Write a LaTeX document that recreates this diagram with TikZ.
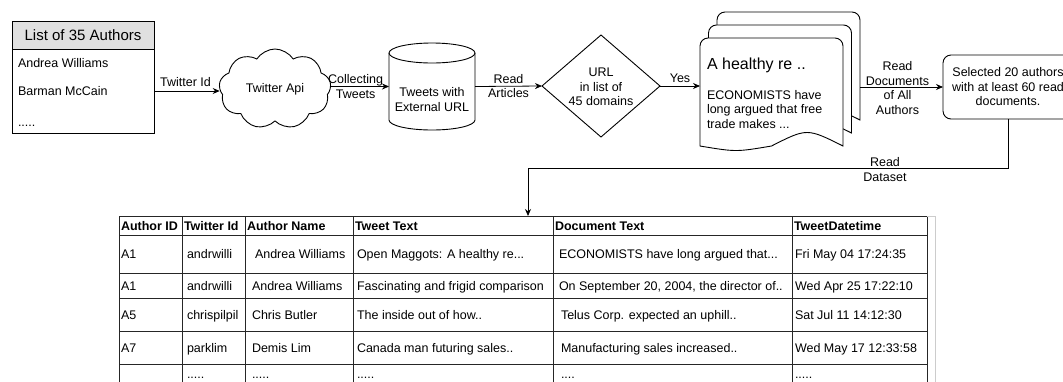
\documentclass[tikz,border=0pt]{standalone}
\usepackage{fontspec}
\setmainfont{Liberation Sans}
\usetikzlibrary{shapes.symbols,shapes.geometric,arrows.meta}
\begin{document}
\begin{tikzpicture}[x=1pt,y=-1pt,
  every node/.style={font=\fontsize{12.5}{14.5}\selectfont, inner sep=0pt, outer sep=0pt},
  conn/.style={draw=black, line width=0.8pt, -{Stealth[length=7pt,width=6pt]}},
  shp/.style={draw=black, line width=0.9pt, fill=white},
  grid/.style={draw=black!85, line width=0.9pt},
  tx/.style={anchor=base west},
  hd/.style={anchor=base west, font=\fontsize{12.5}{14.5}\selectfont\bfseries},
]
\useasboundingbox (0,0) rectangle (1063,381);

% ---- list of authors
\node[shp, fill={rgb,255:red,224;green,224;blue,224}, minimum width=142pt, minimum height=28pt,
      anchor=north west, font=\fontsize{15}{17}\selectfont] (listhead) at (12,21) {List of 35 Authors};
\node[shp, minimum width=142pt, minimum height=84pt, anchor=north west] (list) at (12,49) {};
\node[tx] (i1) at (18,67.5) {Andrea Williams};
\node[tx] (i2) at (18,95.5) {Barman McCain};
\node[tx] (i3) at (18,126) {.....};

% ---- cloud
\node[cloud, draw=black, line width=0.9pt, fill=white, cloud puffs=9, cloud puff arc=115, aspect=1.4,
      minimum width=112pt, minimum height=80pt] (api) at (275,89) {Twitter Api};

% ---- cylinder
\draw[shp] (389,53) -- (389,120) arc(180:0:43 and 10) -- (475,53) arc(0:-180:43 and 10) -- cycle;
\draw[draw=black, line width=0.9pt] (389,53) arc(180:0:43 and 10);
\node[minimum width=86pt, minimum height=87pt] (db) at (432,86.5) {};
\node[align=center] (dbt) at (432,99.5) {Tweets with\\External URL};

% ---- diamond
\node[diamond, shp, minimum width=118pt, minimum height=102pt] (dia) at (601,86) {};
\node[align=center] (diat) at (601,87) {URL\\in list of\\45 domains};

% ---- document stack
\foreach \dx/\dy in {17/-26, 8.5/-13, 0/0}
  \draw[shp, shift={(700+\dx,38+\dy)}] (0,108) -- (0,8) arc(180:270:8) -- (135,0) arc(270:360:8) -- (143,108)
      .. controls (107,90) .. (71.5,108) .. controls (36,114) .. (0,108) -- cycle;
\node[minimum width=143pt, minimum height=108pt, anchor=north west] (doc) at (700,38) {};
\node[anchor=base west, font=\fontsize{16}{18}\selectfont] (doct) at (707,69) {A healthy re ..};
\node[anchor=north west, align=left] (docb) at (707,90) {ECONOMISTS have\\long argued that free\\trade makes ...};
\coordinate (stackR) at (860,87);

% ---- selected box
\node[shp, rounded corners=8pt, minimum width=130pt, minimum height=64pt, align=center] (sel) at (1008,87)
  {Selected 20 authors\\with at least 60 read\\documents.};

% ---- connectors
\draw[conn] (list.east) -- (list.east -| api.west) node[pos=0.48, above=4pt] (l1) {Twitter Id};
\draw[conn] (api.east |- db.west) -- (db.west) node[midway, align=center, xshift=-4pt] (l2) {Collecting\\Tweets};
\draw[conn] (db.east) -- (dia.west) node[midway, align=center] (l3) {Read\\Articles};
\draw[conn] (dia.east) -- (dia.east -| doc.west) node[midway, above=3pt] (l4) {Yes};
\draw[conn] (stackR) -- (sel.west) node[midway, align=center, xshift=-4pt, yshift=-1pt] (l5) {Read\\Documents\\of All\\Authors};
\coordinate (tblin) at (528,216);
\draw[conn] (sel.south) -- ++(0,49) -| (tblin);
\node[align=center] (l6) at (885,169.5) {Read\\Dataset};

% ---- table
\foreach \x in {119,182,245,353,553,792,927} \draw[grid] (\x,216) -- (\x,386);
\foreach \y in {216,235,273,298,331,364} \draw[grid] (119,\y) -- (927,\y);
\draw[draw=black!20, line width=0.9pt] (927,216) -- (935,216) -- (935,386);

\node[hd] (h1) at (121,230) {Author ID};
\node[hd] (h2) at (184,230) {Twitter Id};
\node[hd] (h3) at (247,230) {Author Name};
\node[hd] (h4) at (355,230) {Tweet Text};
\node[hd] (h5) at (555,230) {Document Text};
\node[hd] (h6) at (794,230) {TweetDatetime};

\node[tx] (a1) at (121,258.5) {A1};
\node[tx] (a2) at (187,258.5) {andrwilli};
\node[tx] (a3) at (255,258.5) {Andrea Williams};
\node[tx] (a4) at (357,258.5) {Open Maggots: A healthy re...};
\node[tx] (a5) at (559,258.5) {ECONOMISTS have long argued that...};
\node[tx] (a6) at (795,258.5) {Fri May 04 17:24:35};

\node[tx] (b1) at (121,290) {A1};
\node[tx] (b2) at (187,290) {andrwilli};
\node[tx] (b3) at (252,290) {Andrea Williams};
\node[tx] (b4) at (357,290) {Fascinating and frigid comparison};
\node[tx] (b5) at (559,290) {On September 20, 2004, the director of..};
\node[tx] (b6) at (795,290) {Wed Apr 25 17:22:10};

\node[tx] (c1) at (121,319) {A5};
\node[tx] (c2) at (187,319) {chrispilpil};
\node[tx] (c3) at (252,319) {Chris Butler};
\node[tx] (c4) at (357,319) {The inside out of how..};
\node[tx] (c5) at (561,319) {Telus Corp. expected an uphill..};
\node[tx] (c6) at (795,319) {Sat Jul 11 14:12:30};

\node[tx] (d1) at (121,352) {A7};
\node[tx] (d2) at (187,352) {parklim};
\node[tx] (d3) at (252,352) {Demis Lim};
\node[tx] (d4) at (357,352) {Canada man futuring sales..};
\node[tx] (d5) at (561,352) {Manufacturing sales increased..};
\node[tx] (d6) at (795,352) {Wed May 17 12:33:58};

\node[tx] (e2) at (187,378.5) {.....};
\node[tx] (e3) at (252,378.5) {.....};
\node[tx] (e4) at (357,378.5) {.....};
\node[tx] (e5) at (561,378.5) {....};
\node[tx] (e6) at (795,378.5) {.....};
\end{tikzpicture}
\end{document}
